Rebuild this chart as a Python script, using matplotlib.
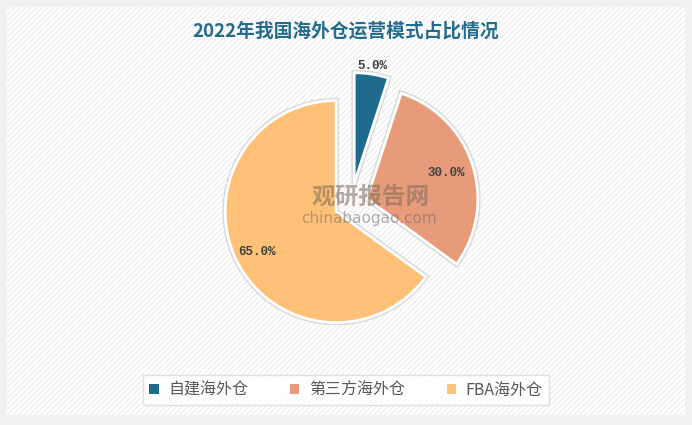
#2022年我国海外仓运营模式占比情况 - pie chart with exploded slices
import matplotlib.pyplot as plt
import matplotlib.patches as mpatches
import numpy as np

plt.rcParams['font.family'] = ['Noto Sans CJK SC', 'DejaVu Sans']
plt.rcParams['hatch.linewidth'] = 0.6

# data
modes = ["自建海外仓", "第三方海外仓", "FBA海外仓"]
shares = [5.0, 30.0, 65.0]
colors = ["#1F6B8E", "#E89B7B", "#FFC177"]
explode = [0.185, 0.15, 0.15]
label_dist = [1.07, 0.75, 0.80]

W, H = 692, 425
fig = plt.figure(figsize=(W / 100, H / 100), dpi=100)
fig.patch.set_facecolor("#f1f1f1")
ax = fig.add_axes([0, 0, 1, 1])

# background panel with fine diagonal stripes
panel = mpatches.Rectangle((7, 10), 678, 408, facecolor="white",
                           edgecolor="#e6e6e6", hatch="//////", linewidth=0, zorder=0)
ax.add_patch(panel)

center = (351, H - 204)
radius = 111
# pie explode is in data units, so scale by the radius
expl = [e * radius for e in explode]

# soft grey outline under the slices
ax.pie(shares, explode=expl, colors=colors, startangle=90, counterclock=False,
       center=center, radius=radius, frame=True,
       wedgeprops=dict(edgecolor="#d8d8d8", linewidth=4))
wedges, _ = ax.pie(shares, explode=expl, colors=colors, startangle=90, counterclock=False,
                   center=center, radius=radius, frame=True,
                   wedgeprops=dict(edgecolor="white", linewidth=2))
ax.set_xlim(0, W)
ax.set_ylim(0, H)
ax.set_aspect("equal")
ax.axis("off")

# percentage labels
for w, val, d in zip(wedges, shares, label_dist):
    ang = np.deg2rad((w.theta1 + w.theta2) / 2)
    x = w.center[0] + w.r * d * np.cos(ang)
    y = w.center[1] + w.r * d * np.sin(ang)
    ax.text(x, y, f"{val:.1f}%", ha="center", va="center", fontsize=9,
            fontweight="bold", color="#404040", family="Liberation Mono", zorder=5)

# watermark
ax.text(371, H - 197, "观研报告网", ha="center", va="center", fontsize=17,
        fontweight="bold", color="#7a6a5a", alpha=0.55, zorder=4)
ax.text(369, H - 218, "chinabaogao.com", ha="center", va="center", fontsize=11,
        color="#6f6f6f", alpha=0.55, family="DejaVu Sans", zorder=4)

# title
ax.text(346, H - 31, "2022年我国海外仓运营模式占比情况", ha="center", va="center",
        fontsize=13.5, fontweight="bold", color="#236C8E")

# legend
leg = ax.legend(wedges, modes, loc="center", bbox_to_anchor=(346 / W, 1 - 390 / H),
                ncol=3, frameon=True, fancybox=False, fontsize=11.5, handlelength=0.6,
                handleheight=0.6, handletextpad=0.6, columnspacing=2.6,
                borderpad=0.4, borderaxespad=0, labelcolor="#595959")
leg.get_frame().set_edgecolor("#d9d9d9")
leg.get_frame().set_linewidth(1)
for h in leg.legend_handles:
    h.set_edgecolor("none")

fig.savefig("out.png", dpi=100, facecolor=fig.get_facecolor())
